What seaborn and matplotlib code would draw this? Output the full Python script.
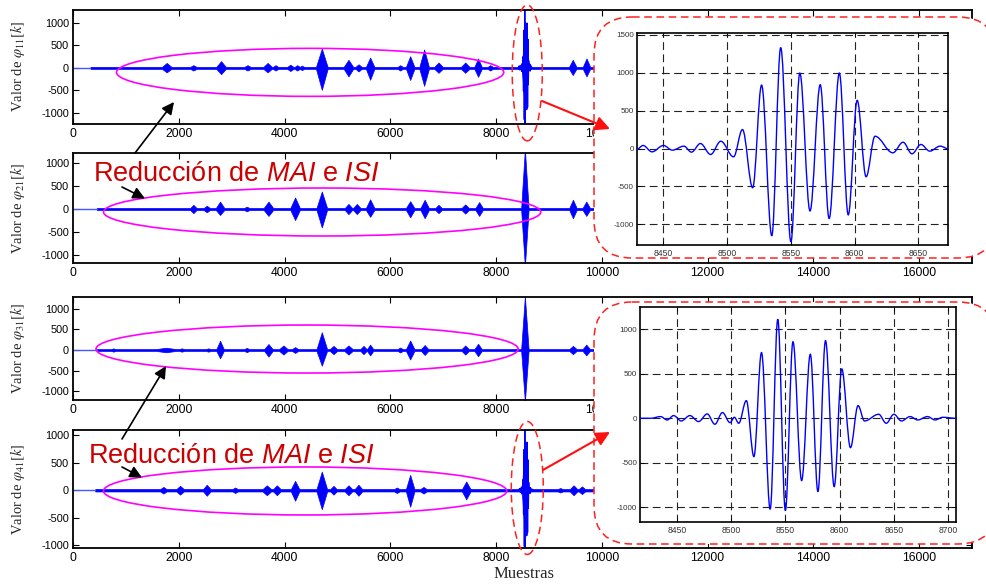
import matplotlib
matplotlib.use("Agg")
import matplotlib.pyplot as plt
import seaborn as sns
from matplotlib.patches import Ellipse, FancyBboxPatch, PathPatch
from matplotlib.path import Path

# ---------------------------------------------------------------- data
x_ticks = [0, 2000, 4000, 6000, 8000, 10000, 12000, 14000, 16000]
y_ticks = [-1000, -500, 0, 500, 1000]
channel_labels = [r"Valor de $\varphi_{11}[k]$", r"Valor de $\varphi_{21}[k]$",
                  r"Valor de $\varphi_{31}[k]$", r"Valor de $\varphi_{41}[k]$"]
x_label = "Muestras"
note_text = r"Reducción de $\mathit{MAI}$ e $\mathit{ISI}$"

# sample where the residual noise starts / stops, and its level
noise_start = [330, 450, 450, 420]
noise_end = [9850, 9850, 9850, 9850]
noise_level = [22, 22, 22, 22]

# bursts of each residual: centre sample, half width, positive / negative peak
ch11_center = [1772, 2276, 2800, 3300, 3680, 3830, 4110, 4240, 4330, 4705, 5209, 5400,
               5619, 6187, 6376, 6640, 6912, 7417, 7660, 7890, 8548, 9450, 9710]
ch11_halfw = [90, 60, 90, 60, 80, 50, 60, 50, 40, 110, 90, 60,
              80, 50, 80, 90, 80, 80, 70, 50, 60, 70, 70]
ch11_up = [110, 60, 150, 60, 110, 60, 70, 60, 50, 430, 180, 80,
           230, 60, 260, 410, 120, 120, 210, 60, 1000, 180, 210]
ch11_down = [100, 60, 140, 60, 100, 60, 70, 60, 50, 490, 190, 80,
             265, 60, 270, 400, 110, 110, 200, 60, 1000, 160, 190]

ch21_center = [2276, 2530, 2781, 3286, 3696, 4200, 4705, 5209, 5367, 5619, 6376, 6650,
               6912, 7417, 7680, 8545, 9454, 9706]
ch21_halfw = [60, 60, 80, 50, 90, 90, 100, 70, 70, 80, 80, 80, 60, 70, 70, 70, 70, 70]
ch21_up = [90, 70, 160, 50, 160, 250, 380, 110, 110, 210, 170, 200, 90, 100, 150, 1300, 200, 160]
ch21_down = [90, 70, 130, 50, 150, 240, 400, 110, 110, 170, 180, 200, 90, 100, 150, 1250, 200, 150]

ch31_center = [763, 1760, 2056, 2560, 2781, 3286, 3696, 3979, 4200, 4705, 4926, 5209, 5493,
               5619, 6187, 6376, 6650, 7417, 7660, 8545, 9454, 9706]
ch31_halfw = [40, 190, 50, 50, 70, 50, 80, 80, 60, 100, 70, 80, 60, 60, 50, 80, 70, 70, 70, 70, 70, 70]
ch31_up = [40, 55, 40, 40, 225, 50, 145, 110, 70, 430, 100, 110, 100, 130, 60, 230, 120, 110, 150,
           1300, 100, 130]
ch31_down = [40, 55, 40, 40, 200, 50, 160, 110, 70, 380, 100, 110, 100, 130, 60, 230, 120, 110, 150,
             1250, 100, 130]

ch41_center = [1709, 2025, 2530, 3066, 3665, 3855, 4200, 4705, 4926, 5209, 5398, 6124, 6376,
               6628, 7436, 8548, 9214, 9466, 9624]
ch41_halfw = [60, 70, 70, 50, 80, 70, 80, 100, 60, 70, 70, 50, 80, 60, 80, 60, 50, 70, 60]
ch41_up = [60, 80, 100, 50, 90, 90, 170, 340, 80, 90, 100, 50, 280, 60, 160, 900, 40, 90, 70]
ch41_down = [60, 80, 100, 50, 90, 90, 190, 345, 80, 90, 100, 50, 300, 60, 165, 900, 40, 90, 70]

# detailed waveform around the strongest burst (local extrema)
zoom11_k = [8429, 8434, 8441, 8450, 8457, 8466, 8472, 8479, 8487, 8495, 8505, 8512, 8520,
            8527, 8535, 8542, 8550, 8557, 8565, 8573, 8580, 8588, 8595, 8602, 8609, 8616,
            8630, 8638, 8645, 8652, 8659, 8667, 8675]
zoom11_v = [-13, 40, -44, 40, -22, 31, -48, 66, -79, 96, -110, 250, -518,
            838, -1153, 1333, -1232, 996, -825, 842, -925, 996, -877, 636, -373, 162,
            -57, 83, -70, 53, -35, 31, -13]

zoom41_k = [8416, 8426, 8435, 8441, 8447, 8454, 8462, 8470, 8478, 8485, 8492, 8499, 8503,
            8507, 8514, 8521, 8528, 8536, 8543, 8550, 8557, 8565, 8573, 8580, 8587, 8595,
            8602, 8610, 8617, 8623, 8636, 8643, 8650, 8657, 8665, 8672, 8681, 8688, 8695, 8707]
zoom41_v = [0, 0, 19, -19, 30, -30, 30, -37, 49, -67, 64, -49, 11,
            -56, 198, -431, 738, -1022, 1112, -1037, 861, -700, 719, -824, 873, -768,
            554, -330, 142, -30, 45, -56, 45, -30, 19, -19, 19, -19, 11, 0]

# ---------------------------------------------------------------- style
sns.set_theme(style="ticks")
plt.rcParams.update({
    "font.family": ["Liberation Sans", "DejaVu Sans"],
    "mathtext.fontset": "custom",
    "mathtext.rm": "Liberation Sans",
    "mathtext.it": "Liberation Sans:italic",
    "mathtext.bf": "Liberation Sans:bold",
    "axes.unicode_minus": False,
    "axes.edgecolor": "black",
    "axes.linewidth": 1.2,
    "xtick.color": "black",
    "ytick.color": "black",
})

W, H = 987, 584
fig = plt.figure(figsize=(W / 100, H / 100), dpi=100, facecolor="white")


def px_axes(x0, y0, x1, y1, **kw):
    return fig.add_axes([x0 / W, 1 - y1 / H, (x1 - x0) / W, (y1 - y0) / H], **kw)


def envelope(start, end, level, centers, halfw, up, down):
    xs, hi, lo = [start], [level], [-level]
    for c, w, u, d in sorted(zip(centers, halfw, up, down)):
        xs += [c - w, c, c + w]
        hi += [level, u, level]
        lo += [-level, -d, -level]
    xs.append(end)
    hi.append(level)
    lo.append(-level)
    return xs, lo, hi


def smooth_wave(ax, ks, vs, **kw):
    """Curve through the extrema with flat tangents at every extremum."""
    verts, codes = [(ks[0], vs[0])], [Path.MOVETO]
    for (k0, v0), (k1, v1) in zip(zip(ks[:-1], vs[:-1]), zip(ks[1:], vs[1:])):
        d = 0.36 * (k1 - k0)
        verts += [(k0 + d, v0), (k1 - d, v1), (k1, v1)]
        codes += [Path.CURVE4] * 3
    ax.add_patch(PathPatch(Path(verts, codes), fill=False, **kw))


panel_px = [(73, 9.5, 972, 124), (73, 152.7, 972, 263),
            (73, 297.3, 972, 400), (73, 430, 972, 547.7)]
panel_ylim = [(-1250, 1300), (-1170, 1220), (-1210, 1276), (-1045, 1096)]
bursts = [(ch11_center, ch11_halfw, ch11_up, ch11_down),
          (ch21_center, ch21_halfw, ch21_up, ch21_down),
          (ch31_center, ch31_halfw, ch31_up, ch31_down),
          (ch41_center, ch41_halfw, ch41_up, ch41_down)]
detail = {0: (zoom11_k, zoom11_v), 3: (zoom41_k, zoom41_v)}

# magenta ellipse (centre x, centre y, width, height) in data units
mag_ell = [(4484, -100, 7322, 1069), (4711, -65, 8268, 1040),
           (4427, 24, 7984, 1162), (4389, -13, 7625, 873)]
red_ell = {0: (8590, -111, 568, 3029), 3: (8590, 42, 605, 2419)}

blue = "#0000FF"
for i in range(4):
    ax = px_axes(*panel_px[i], zorder=0)
    sns.lineplot(x=[0, noise_start[i]], y=[0, 0], ax=ax, color="#4455FF", lw=1.0)
    xs, lo, hi = envelope(noise_start[i], noise_end[i], noise_level[i], *bursts[i])
    ax.fill_between(xs, lo, hi, color=blue, lw=0.5, edgecolor=blue)
    if i in detail:
        kk, vv = detail[i]
        sns.lineplot(x=kk, y=vv, ax=ax, color=blue, lw=1.0, sort=False, estimator=None)
    ax.set_xlim(0, 17000)
    ax.set_ylim(*panel_ylim[i])
    ax.set_xticks(x_ticks)
    ax.set_yticks(y_ticks)
    ax.tick_params(direction="in", length=4, width=0.8, top=True, right=True)
    ax.tick_params(axis="x", labelsize=8.7, pad=3)
    ax.tick_params(axis="y", labelsize=7.8, pad=3)
    for sp in ax.spines.values():
        sp.set_visible(True)
        sp.set_linewidth(1.3)
    ax.set_ylabel(channel_labels[i], fontsize=10.5, family="Liberation Serif",
                  math_fontfamily="stix")
    ax.yaxis.set_label_coords(-0.051, 0.5)
    cx, cy, ew, eh = mag_ell[i]
    ax.add_patch(Ellipse((cx, cy), ew, eh, fill=False, ec="#FF00FF", lw=1.2,
                         clip_on=False, zorder=5))
    if i in red_ell:
        cx, cy, ew, eh = red_ell[i]
        ax.add_patch(Ellipse((cx, cy), ew, eh, fill=False, ec="#FF2020", lw=1.1,
                             ls=(0, (5, 3)), clip_on=False, zorder=5))

fig.text(524 / W, 1 - 574 / H, x_label, ha="center", va="center", fontsize=12,
         family="Liberation Serif")

# white callout boxes that hold the zoomed views
back = fig.add_axes([0, 0, 1, 1], zorder=1)
back.set_xlim(0, W)
back.set_ylim(H, 0)
back.axis("off")
for (bx0, by0, bx1, by1) in [(594, 17, 996, 258), (594, 302, 996, 544)]:
    back.add_patch(FancyBboxPatch((bx0, by0), bx1 - bx0, by1 - by0,
                                  boxstyle="round,pad=0,rounding_size=38",
                                  fc="white", ec="#FF2020", lw=1.1, ls=(0, (5, 3))))

# zoomed views
inset_px = [(636.7, 32.7, 948.3, 245), (640, 307.3, 955.7, 522.3)]
inset_xlim = [(8429, 8673.5), (8416, 8707)]
inset_ylim = [(-1275, 1530), (-1169, 1247)]
inset_xticks = [[8450, 8500, 8550, 8600, 8650], [8450, 8500, 8550, 8600, 8650, 8700]]
inset_yticks = [[-1000, -500, 0, 500, 1000, 1500], [-1000, -500, 0, 500, 1000]]
inset_data = [(zoom11_k, zoom11_v), (zoom41_k, zoom41_v)]
for j in range(2):
    ia = px_axes(*inset_px[j], zorder=2)
    kk, vv = inset_data[j]
    smooth_wave(ia, kk, vv, ec=blue, lw=1.0, zorder=3)
    ia.set_xlim(*inset_xlim[j])
    ia.set_ylim(*inset_ylim[j])
    ia.set_xticks(inset_xticks[j])
    ia.set_yticks(inset_yticks[j])
    ia.set_axisbelow(True)
    ia.grid(True, color="#222222", ls=(0, (7, 4)), lw=0.8)
    ia.tick_params(direction="in", length=3, width=0.7, top=True, right=True,
                   labelcolor="#333333")
    ia.tick_params(axis="x", labelsize=6.2, pad=3)
    ia.tick_params(axis="y", labelsize=5.8, pad=2)
    for sp in ia.spines.values():
        sp.set_visible(True)
        sp.set_linewidth(1.2)
    ia.set_facecolor("white")

# annotations on top
front = fig.add_axes([0, 0, 1, 1], zorder=4)
front.set_xlim(0, W)
front.set_ylim(H, 0)
front.axis("off")

red_arrow = dict(arrowstyle="-|>,head_length=0.6,head_width=0.3", color="#FF1010",
                 lw=1.5, shrinkA=0, shrinkB=0, mutation_scale=14)
front.annotate("", xy=(610, 129), xytext=(542, 101), arrowprops=red_arrow)
front.annotate("", xy=(610, 432), xytext=(543, 470), arrowprops=red_arrow)

blk_arrow = dict(arrowstyle="-|>,head_length=0.6,head_width=0.3", color="black",
                 lw=1.2, shrinkA=0, shrinkB=0, mutation_scale=12)
front.annotate("", xy=(174, 102), xytext=(135, 153), arrowprops=blk_arrow)
front.annotate("", xy=(145, 198.5), xytext=(122, 187), arrowprops=blk_arrow)
front.annotate("", xy=(166, 366), xytext=(122, 439), arrowprops=blk_arrow)
front.annotate("", xy=(142, 477.5), xytext=(122, 467), arrowprops=blk_arrow)

for (tx, ty) in [(93, 180.7), (88, 462.7)]:
    front.text(tx, ty, note_text, fontsize=19.5, color="#CC0000", ha="left",
               va="baseline", family="Liberation Sans", math_fontfamily="custom")

fig.savefig("out.png", dpi=100, facecolor="white")
